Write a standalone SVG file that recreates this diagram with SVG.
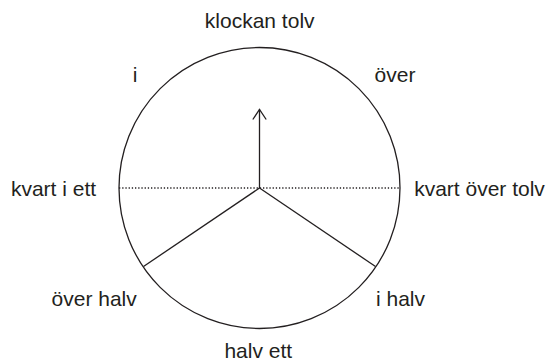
<svg xmlns="http://www.w3.org/2000/svg" width="549" height="362" viewBox="0 0 549 362">
<style>
.t{font-family:"Liberation Sans",Arial,sans-serif;font-size:21px;fill:#231f20;text-anchor:middle}
.s{fill:none;stroke:#231f20;stroke-width:1.3}
.d{fill:none;stroke:#231f20;stroke-width:1.3;stroke-dasharray:1.3 1.9}
</style>
<rect width="549" height="362" fill="#fff"/>
<g id="clock">
<circle class="s" cx="259.5" cy="188" r="140.5"/>
</g>
<g id="connectors">
<line class="d" x1="119" y1="188" x2="400" y2="188"/>
<line class="s" x1="259.5" y1="188" x2="259.5" y2="109.5"/>
<polyline class="s" points="252.8,119.5 259.5,109.5 266.2,119.5"/>
<line class="s" x1="259.5" y1="188" x2="143.5" y2="266.5"/>
<line class="s" x1="259.5" y1="188" x2="375.5" y2="266.5"/>
</g>
<g id="label-klockan-tolv"><text class="t" x="259.7" y="28">klockan tolv</text></g>
<g id="label-i"><text class="t" x="135" y="82">i</text></g>
<g id="label-over"><text class="t" x="395" y="82">över</text></g>
<g id="label-kvart-i-ett"><text class="t" x="53.5" y="196">kvart i ett</text></g>
<g id="label-kvart-over-tolv"><text class="t" x="479.5" y="196">kvart över tolv</text></g>
<g id="label-over-halv"><text class="t" x="94.2" y="306">över halv</text></g>
<g id="label-i-halv"><text class="t" x="400.5" y="306">i halv</text></g>
<g id="label-halv-ett"><text class="t" x="258.3" y="358">halv ett</text></g>
</svg>
